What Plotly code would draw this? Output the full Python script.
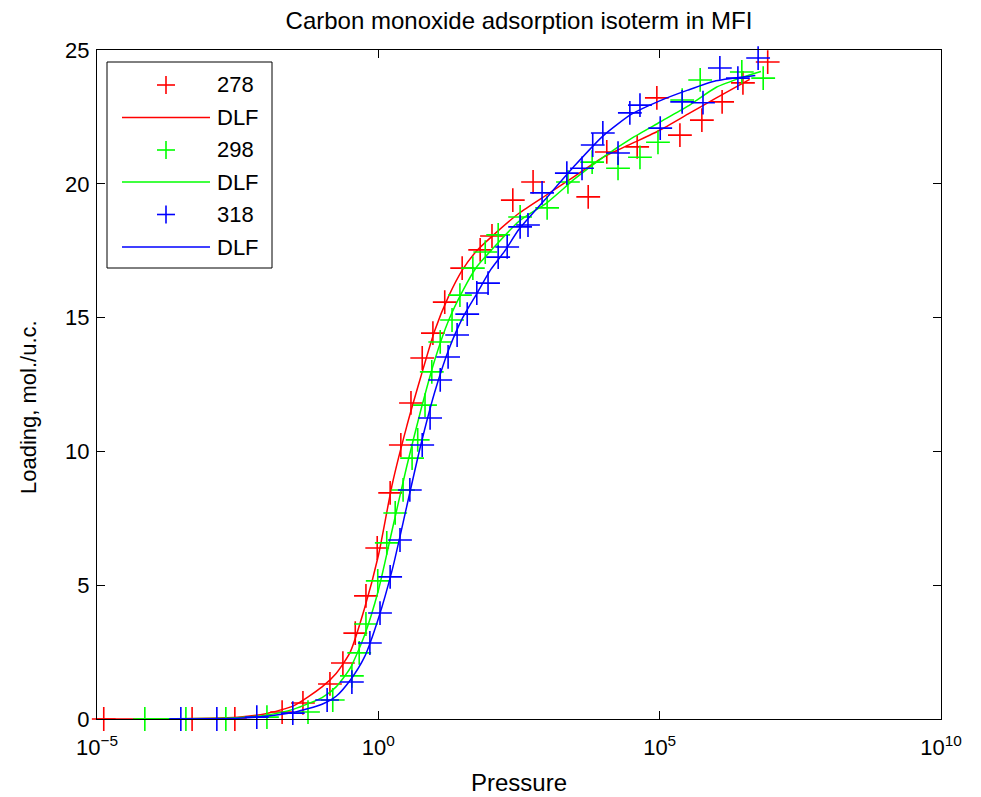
import plotly.graph_objects as go

TITLE = "Carbon monoxide adsorption isoterm in MFI"
X_LABEL = "Pressure"
Y_LABEL = "Loading, mol./u.c."
X_TICK_EXP = [-5, 0, 5, 10]
Y_TICKS = [0, 5, 10, 15, 20, 25]
SERIES_NAMES = ["278", "298", "318"]
FIT_NAME = "DLF"

# measured points: log10(pressure) and load
LOGP_278 = [-4.88, -3.31, -2.55, -1.71, -1.34, -0.86, -0.63, -0.41, -0.22, -0.02,
            0.21, 0.40, 0.58, 0.78, 0.97, 1.18, 1.49, 1.81, 2.02, 2.39,
            2.75, 3.73, 4.06, 4.60, 4.95, 5.36, 5.75, 6.11, 6.48, 6.92]
LOAD_278 = [0, 0, 0, 0.26, 0.60, 1.31, 2.09, 3.21, 4.60, 6.39,
            8.45, 10.24, 11.81, 13.49, 14.42, 15.58, 16.85, 17.53, 18.05, 19.39,
            20.07, 19.51, 21.19, 21.38, 23.21, 21.82, 22.38, 23.06, 23.77, 24.55]

LOGP_298 = [-4.15, -3.42, -2.71, -1.98, -1.25, -0.81, -0.47, -0.34, -0.22, -0.01,
            0.15, 0.30, 0.44, 0.60, 0.70, 0.83, 0.95, 1.10, 1.31, 1.45,
            1.68, 1.90, 2.13, 2.52, 3.00, 3.37, 3.80, 4.26, 4.65, 4.97,
            5.40, 5.72, 6.46, 6.84]
LOAD_298 = [0, 0, 0, 0.07, 0.26, 0.71, 1.61, 2.47, 3.55, 5.16,
            6.58, 7.70, 8.56, 9.75, 10.43, 11.73, 12.97, 14.09, 14.91, 15.84,
            16.85, 17.45, 18.09, 18.76, 19.10, 20.07, 20.81, 20.58, 20.99, 21.55,
            23.13, 23.88, 24.18, 23.95]

LOGP_318 = [-3.51, -2.87, -2.16, -1.52, -0.91, -0.47, -0.15, 0.03, 0.21, 0.385,
            0.56, 0.78, 0.92, 1.10, 1.24, 1.40, 1.58, 1.75, 1.95, 2.13,
            2.29, 2.52, 2.66, 2.91, 3.35, 3.62, 3.81, 3.99, 4.26, 4.47,
            4.65, 5.01, 5.40, 5.77, 6.07, 6.39, 6.75]
LOAD_318 = [0, 0, 0.07, 0.22, 0.71, 1.38, 2.84, 3.96, 5.31, 6.69,
            8.56, 10.24, 11.25, 12.67, 13.53, 14.35, 15.13, 15.92, 16.29, 17.26,
            17.64, 18.39, 18.46, 19.66, 20.40, 20.58, 21.45, 21.90, 21.15, 22.65,
            22.94, 22.08, 23.06, 23.03, 24.33, 23.95, 24.70]

# DLF fitted curves
LOGP_DLF_278 = [-5.0, -4.0, -3.0, -2.5, -2.0, -1.5, -1.0, -0.75, -0.5, -0.25, 0.0, 0.25,
                0.5, 0.75, 1.0, 1.25, 1.5, 1.75, 2.0, 2.5, 3.0, 3.5, 4.0, 4.5, 5.0, 5.5, 6.0, 6.6]
LOAD_DLF_278 = [0.0, 0.0, 0.03, 0.07, 0.2, 0.5, 1.2, 1.7, 2.5, 4.1, 6.1, 8.8,
                10.9, 12.75, 14.5, 15.8, 16.8, 17.5, 18.0, 18.9, 19.6, 20.3, 21.0, 21.5, 22.0, 22.6, 23.2, 23.9]

LOGP_DLF_298 = [-4.3, -3.0, -2.5, -2.0, -1.5, -1.0, -0.75, -0.5, -0.25, 0.0, 0.25, 0.5,
                0.75, 1.0, 1.25, 1.5, 1.75, 2.0, 2.5, 3.0, 3.5, 4.0, 4.5, 5.0, 5.5, 6.0, 6.5, 6.8]
LOAD_DLF_298 = [0.0, 0.02, 0.05, 0.14, 0.37, 0.8, 1.2, 1.9, 3.1, 4.8, 7.1, 9.4,
                11.5, 13.4, 14.9, 16.0, 16.9, 17.5, 18.6, 19.3, 20.2, 21.0, 21.7, 22.3, 22.9, 23.6, 24.0, 24.2]

LOGP_DLF_318 = [-3.7, -3.0, -2.5, -2.0, -1.5, -1.0, -0.75, -0.5, -0.25, 0.0, 0.25, 0.5,
                0.75, 1.0, 1.25, 1.5, 1.75, 2.0, 2.25, 2.5, 3.0, 3.5, 4.0, 4.5, 5.0, 5.5, 6.0, 6.7]
LOAD_DLF_318 = [0.0, 0.01, 0.03, 0.1, 0.25, 0.55, 0.85, 1.45, 2.3, 3.75, 5.6, 7.9,
                10.2, 12.2, 13.8, 15.0, 15.9, 16.8, 17.5, 18.3, 19.5, 20.7, 21.8, 22.6, 23.1, 23.5, 23.85, 24.05]

COLORS = ["#ff0000", "#00ff00", "#0000ff"]


def to_pressure(logs):
    return [10 ** v for v in logs]


points = [(LOGP_278, LOAD_278), (LOGP_298, LOAD_298), (LOGP_318, LOAD_318)]
fits = [(LOGP_DLF_278, LOAD_DLF_278), (LOGP_DLF_298, LOAD_DLF_298), (LOGP_DLF_318, LOAD_DLF_318)]

FONT = "Liberation Sans, Arial, Helvetica, sans-serif"
FS = 22
FS_H = 24

# figure geometry (page is offset by the 8px body margin)
W, H = 981, 797
ML, MR, MT, MB = 89, 48, 42, 86
PW, PH = W - ML - MR, H - MT - MB


def px(sx):  # screenshot x -> paper x
    return (sx - 8 - ML) / PW


def py(sy):  # screenshot y -> paper y
    return (H - MB - (sy - 8)) / PH


fig = go.Figure()
for i, (name, col) in enumerate(zip(SERIES_NAMES, COLORS)):
    lp, ld = points[i]
    fig.add_trace(go.Scatter(
        x=to_pressure(lp), y=ld, mode="markers", name=name, showlegend=False,
        marker=dict(symbol="cross-thin", size=17, color=col, line=dict(width=1.6, color=col)),
        cliponaxis=False,
    ))
    fp, fl = fits[i]
    fig.add_trace(go.Scatter(
        x=to_pressure(fp), y=fl, mode="lines", name=FIT_NAME, showlegend=False,
        line=dict(color=col, width=1.5, shape="spline", smoothing=0.6),
    ))

axis_common = dict(
    showline=True, linecolor="black", linewidth=1, mirror="ticks",
    ticks="inside", ticklen=8, tickcolor="black", tickwidth=1,
    showgrid=False, zeroline=False, automargin=False,
    tickfont=dict(family=FONT, size=FS, color="black"),
)

fig.update_xaxes(
    type="log", range=[-5, 10],
    tickvals=[10 ** e for e in X_TICK_EXP],
    ticktext=["10<sup>%s</sup>" % str(e).replace("-", "\u2212") for e in X_TICK_EXP],
    ticklabelstandoff=9,
    **axis_common,
)
fig.update_yaxes(
    range=[0, 25], tickvals=Y_TICKS, ticktext=[str(v) for v in Y_TICKS],
    ticklabelstandoff=2,
    **axis_common,
)

# custom legend (MATLAB style): box, long line samples, cross samples, labels
shapes = []
annotations = []
shapes.append(dict(type="rect", xref="paper", yref="paper",
                   x0=px(107), x1=px(272), y0=py(268), y1=py(62),
                   line=dict(color="black", width=1), fillcolor="white", layer="above"))
rows = [85, 117.5, 150, 182, 214.5, 247]
labels = []
for name, col in zip(SERIES_NAMES, COLORS):
    labels.append(("marker", name, col))
    labels.append(("line", FIT_NAME, col))
for (kind, text, col), sy in zip(labels, rows):
    if kind == "line":
        shapes.append(dict(type="line", xref="paper", yref="paper",
                           x0=px(122), x1=px(210), y0=py(sy), y1=py(sy),
                           line=dict(color=col, width=1.5), layer="above"))
    else:
        shapes.append(dict(type="line", xref="paper", yref="paper",
                           x0=px(157), x1=px(175), y0=py(sy), y1=py(sy),
                           line=dict(color=col, width=1.6), layer="above"))
        shapes.append(dict(type="line", xref="paper", yref="paper",
                           x0=px(166), x1=px(166), y0=py(sy + 9), y1=py(sy - 9),
                           line=dict(color=col, width=1.6), layer="above"))
    annotations.append(dict(xref="paper", yref="paper", x=px(215), y=py(sy),
                            xanchor="left", yanchor="middle", text=text, showarrow=False,
                            font=dict(family=FONT, size=FS, color="black")))

# axis titles
annotations.append(dict(xref="paper", yref="paper", x=0.5, y=py(782),
                        xanchor="center", yanchor="middle", text=X_LABEL, showarrow=False,
                        font=dict(family=FONT, size=FS_H, color="black")))
annotations.append(dict(xref="paper", yref="paper", x=px(28), y=py(407),
                        xanchor="center", yanchor="middle", text=Y_LABEL, showarrow=False,
                        textangle=-90, font=dict(family=FONT, size=FS, color="black")))

fig.update_layout(
    width=W, height=H,
    margin=dict(l=ML, r=MR, t=MT, b=MB),
    paper_bgcolor="white", plot_bgcolor="white",
    font=dict(family=FONT, size=FS, color="black"),
    title=dict(text=TITLE, xref="paper", x=0.5, xanchor="center",
               yref="container", y=1 - 13 / H, yanchor="middle",
               font=dict(family=FONT, size=FS_H, color="black")),
    showlegend=False,
    shapes=shapes,
    annotations=annotations,
)

fig.write_html("out.html")
